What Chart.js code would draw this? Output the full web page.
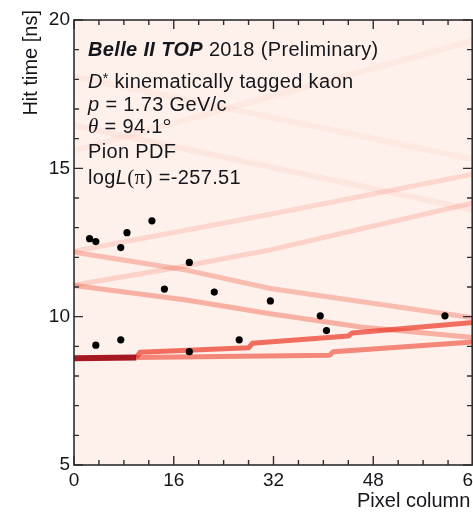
<!DOCTYPE html>
<html><head><meta charset="utf-8">
<script src="https://cdn.jsdelivr.net/npm/chart.js@4.4.0/dist/chart.umd.min.js"></script>
<style>html,body{margin:0;padding:0;background:#fff;overflow:hidden}#wrap{width:473px;height:513px;position:relative}</style>
</head><body><div id="wrap"><canvas id="c" width="473" height="513"></canvas></div>
<script>
// ---- data ----
const xTickValues = [0, 16, 32, 48, 64];
const yTickValues = [5, 10, 15, 20];
const hitColumns = [2.5, 3.5, 7.5, 8.5, 12.5, 14.5, 18.5, 22.5, 31.5, 3.5, 7.5, 18.5, 26.5, 39.5, 40.5, 59.5];
const hitTimes   = [12.63, 12.53, 12.33, 12.83, 13.23, 10.93, 11.83, 10.83, 10.53, 9.04, 9.22, 8.82, 9.22, 10.03, 9.53, 10.03];

// PDF ridges (pixel column -> hit time, ns)
const coreCols = [0, 10];             const coreTimes = [8.6, 8.62];
const ridge1Cols = [10, 10.6, 28, 28.6, 44, 44.6, 64]; const ridge1Times = [8.62, 8.8, 8.95, 9.1, 9.35, 9.45, 9.8];
const ridge2Cols = [10, 41, 41.6, 64];  const ridge2Times = [8.62, 8.7, 8.82, 9.15];
const ridge3Cols = [0, 18, 31.5, 46, 64]; const ridge3Times = [11.05, 10.56, 10.1, 9.65, 9.3];
const ridge4Cols = [0, 18, 31.5, 64];   const ridge4Times = [12.17, 11.57, 10.95, 9.96];
const ridge5Cols = [0, 15, 31.5, 64];   const ridge5Times = [11.07, 11.6, 12.25, 13.83];
const ridge6Cols = [0, 31.5, 64];       const ridge6Times = [12.2, 13.45, 14.8];
const ridge7Cols = [0, 64];             const ridge7Times = [16.45, 13.6];
const ridge8Cols = [0, 64];             const ridge8Times = [18.1, 15.3];
const ridge9Cols = [0, 64];             const ridge9Times = [15.6, 19.3];

const pts = (xs, ys) => xs.map((x, i) => ({x: x, y: ys[i]}));
const ridge = (xs, ys, color, w, order) => ({
  data: pts(xs, ys), showLine: true, borderColor: color, borderWidth: w,
  pointRadius: 0, tension: 0, order: order, borderCapStyle: 'butt', borderJoinStyle: 'round'
});

const FONT = '"Liberation Sans", Arial, sans-serif';
const SERIF = '"Liberation Serif", "Times New Roman", serif';
const TXT = '#15161c';

const deco = {
  id: 'deco',
  beforeDraw(chart) {
    const {ctx, chartArea: a} = chart;
    ctx.save();
    ctx.fillStyle = '#fef1eb';
    ctx.fillRect(a.left, a.top, a.right - a.left, a.bottom - a.top);
    ctx.restore();
  },
  afterDatasetsDraw(chart) {
    const {ctx, chartArea: a, scales} = chart;
    const xs = scales.x, ys = scales.y;
    ctx.save();
    ctx.strokeStyle = '#2e2e30';
    ctx.lineWidth = 1.6;
    ctx.strokeRect(a.left, a.top, a.right - a.left - 0.8, a.bottom - a.top);
    ctx.lineWidth = 1.4;
    ctx.beginPath();
    for (let v = 0; v <= 64; v += 4) {
      const px = xs.getPixelForValue(v);
      const L = (v % 16 === 0) ? 9 : 5;
      ctx.moveTo(px, a.bottom); ctx.lineTo(px, a.bottom - L);
      ctx.moveTo(px, a.top); ctx.lineTo(px, a.top + L);
    }
    for (let v = 5; v <= 20; v += 1) {
      const py = ys.getPixelForValue(v);
      const L = (v % 5 === 0) ? 9 : 5;
      ctx.moveTo(a.left, py); ctx.lineTo(a.left + L, py);
      ctx.moveTo(a.right - 1, py); ctx.lineTo(a.right - 1 - L, py);
    }
    ctx.stroke();

    // axis titles
    ctx.fillStyle = TXT;
    ctx.font = '20px ' + FONT;
    ctx.textBaseline = 'alphabetic';
    ctx.save();
    ctx.translate(37, 10);
    ctx.rotate(-Math.PI / 2);
    ctx.textAlign = 'right';
    ctx.fillText('Hit time [ns]', 0, 0);
    ctx.restore();
    ctx.textAlign = 'left';
    ctx.fillText('Pixel column', 357, 507);

    // annotation block
    const runs = (x, y, list) => {
      for (const r of list) {
        ctx.font = r.f;
        ctx.fillText(r.t, x, y + (r.dy || 0));
        x += ctx.measureText(r.t).width;
      }
    };
    try { ctx.letterSpacing = '0.35px'; } catch (e) {}
    const S = 20;
    const N = S + 'px ' + FONT, I = 'italic ' + S + 'px ' + FONT;
    ctx.textAlign = 'left';
    runs(88, 56, [{t: 'Belle II TOP', f: 'italic bold ' + S + 'px ' + FONT}, {t: ' 2018 (Preliminary)', f: N}]);
    runs(88, 88, [{t: 'D', f: I}, {t: '*', f: '14px ' + FONT, dy: -5}, {t: ' kinematically tagged kaon', f: N}]);
    runs(88, 111, [{t: 'p', f: I}, {t: ' = 1.73 GeV/c', f: N}]);
    runs(88, 133, [{t: 'θ', f: 'italic 21px ' + SERIF}, {t: ' = 94.1', f: N}, {t: '°', f: '21px ' + SERIF}]);
    runs(88, 158, [{t: 'Pion PDF', f: N}]);
    runs(88, 184, [{t: 'log', f: N}, {t: 'L', f: I}, {t: '(', f: '21px ' + SERIF}, {t: 'π', f: '21px ' + SERIF}, {t: ')', f: '21px ' + SERIF}, {t: ' =-257.51', f: N}]);
    ctx.restore();
  }
};

new Chart(document.getElementById('c'), {
  type: 'scatter',
  data: {
    datasets: [
      {data: pts(hitColumns, hitTimes), pointRadius: 3.6, pointHoverRadius: 3.6, pointBackgroundColor: '#000', pointBorderWidth: 0, showLine: false, order: 0},
      ridge(coreCols, coreTimes, 'rgba(160,12,20,0.95)', 6, 1),
      ridge(ridge1Cols, ridge1Times, 'rgba(236,58,40,0.72)', 5, 2),
      ridge(ridge2Cols, ridge2Times, 'rgba(236,58,40,0.58)', 5, 3),
      ridge(ridge3Cols, ridge3Times, 'rgba(240,85,65,0.42)', 5, 4),
      ridge(ridge4Cols, ridge4Times, 'rgba(240,95,75,0.36)', 5, 5),
      ridge(ridge5Cols, ridge5Times, 'rgba(244,120,100,0.26)', 5, 6),
      ridge(ridge6Cols, ridge6Times, 'rgba(244,125,105,0.22)', 5, 7),
      ridge(ridge7Cols, ridge7Times, 'rgba(245,135,115,0.10)', 6, 8),
      ridge(ridge8Cols, ridge8Times, 'rgba(245,135,115,0.08)', 6, 9),
      ridge(ridge9Cols, ridge9Times, 'rgba(245,135,115,0.08)', 6, 10)
    ]
  },
  options: {
    responsive: false,
    animation: false,
    events: [],
    layout: {autoPadding: false, padding: {top: 20, right: 0, left: 0, bottom: 0}},
    plugins: {legend: {display: false}, tooltip: {enabled: false}},
    scales: {
      x: {
        type: 'linear', min: 0, max: 64,
        afterFit: s => { s.height = 48; s.paddingLeft = 0; s.paddingRight = 0; },
        afterBuildTicks: s => { s.ticks = xTickValues.map(v => ({value: v})); },
        ticks: {font: {size: 19, family: FONT}, color: TXT, padding: 4, maxRotation: 0},
        grid: {display: false, drawTicks: false},
        border: {display: false}
      },
      y: {
        type: 'linear', min: 5, max: 20,
        afterFit: s => { s.width = 74; s.paddingTop = 0; s.paddingBottom = 0; },
        afterBuildTicks: s => { s.ticks = yTickValues.map(v => ({value: v})); },
        ticks: {font: {size: 19, family: FONT}, color: TXT, padding: 4},
        grid: {display: false, drawTicks: false},
        border: {display: false}
      }
    }
  },
  plugins: [deco]
});
</script>
</body></html>
